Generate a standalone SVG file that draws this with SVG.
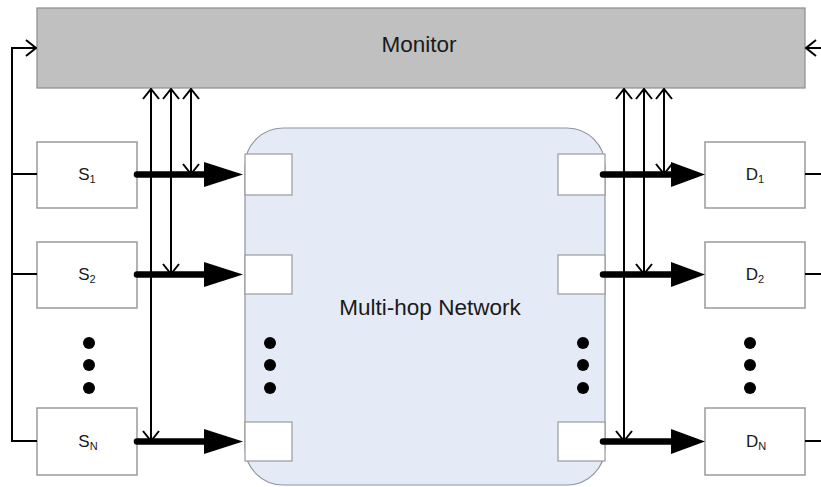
<svg xmlns="http://www.w3.org/2000/svg" width="821" height="487" viewBox="0 0 821 487">
  <defs>
    <style>
      .box { fill: #ffffff; stroke: #9a9a9a; stroke-width: 1.5; }
      .port { fill: #ffffff; stroke: #9a9a9a; stroke-width: 1.2; }
      .lbl { font-family: "Liberation Sans", Arial, sans-serif; fill: #1a1a1a; }
      .thin { fill: none; stroke: #000; stroke-width: 2; }
      .thick { fill: none; stroke: #000; stroke-width: 6.5; stroke-linecap: round; }
      .dot { fill: #000; }
    </style>
    <marker id="openHead" viewBox="0 0 12 18" refX="11" refY="9" markerWidth="12" markerHeight="18" markerUnits="userSpaceOnUse" orient="auto">
      <path d="M1,1 L11,9 L1,17" fill="none" stroke="#000" stroke-width="2"/>
    </marker>
  </defs>
  <rect width="821" height="487" fill="#ffffff"/>

  <!-- Monitor -->
  <g id="monitor">
    <rect x="37" y="8" width="768" height="80" fill="#c0c0c0" stroke="#8c8c8c" stroke-width="1.2"/>
    <text class="lbl" x="419" y="52" font-size="22.5" text-anchor="middle">Monitor</text>
  </g>

  <!-- Multi-hop network with its ingress/egress ports -->
  <g id="network">
    <rect x="245" y="128" width="360" height="357" rx="38" ry="38" fill="#e4eaf6" stroke="#8f959c" stroke-width="1.2"/>
    <text class="lbl" x="430" y="315" font-size="22.5" text-anchor="middle">Multi-hop Network</text>
    <rect class="port" x="245" y="154" width="47" height="41"/>
    <rect class="port" x="245" y="255" width="47" height="39"/>
    <rect class="port" x="245" y="422" width="47" height="39"/>
    <rect class="port" x="558" y="154" width="47" height="41"/>
    <rect class="port" x="558" y="255" width="47" height="39"/>
    <rect class="port" x="558" y="422" width="47" height="39"/>
    <circle class="dot" cx="270" cy="343" r="6"/>
    <circle class="dot" cx="270" cy="365" r="6"/>
    <circle class="dot" cx="270" cy="388" r="6"/>
    <circle class="dot" cx="583" cy="343" r="6"/>
    <circle class="dot" cx="583" cy="365" r="6"/>
    <circle class="dot" cx="583" cy="388" r="6"/>
  </g>

  <!-- Sources -->
  <g id="s1">
    <rect class="box" x="37" y="142" width="100" height="66"/>
    <text class="lbl" x="87" y="180" font-size="17" text-anchor="middle">S<tspan font-size="11" dy="3">1</tspan></text>
  </g>
  <g id="s2">
    <rect class="box" x="37" y="242" width="100" height="66"/>
    <text class="lbl" x="87" y="280" font-size="17" text-anchor="middle">S<tspan font-size="11" dy="3">2</tspan></text>
  </g>
  <g id="sdots">
    <circle class="dot" cx="89" cy="343" r="6"/>
    <circle class="dot" cx="89" cy="365" r="6"/>
    <circle class="dot" cx="89" cy="388" r="6"/>
  </g>
  <g id="sN">
    <rect class="box" x="37" y="408" width="100" height="67"/>
    <text class="lbl" x="88" y="447" font-size="17" text-anchor="middle">S<tspan font-size="11" dy="3">N</tspan></text>
  </g>

  <!-- Destinations -->
  <g id="d1">
    <rect class="box" x="705" y="142" width="100" height="66"/>
    <text class="lbl" x="755" y="180" font-size="17" text-anchor="middle">D<tspan font-size="11" dy="3">1</tspan></text>
  </g>
  <g id="d2">
    <rect class="box" x="705" y="242" width="100" height="66"/>
    <text class="lbl" x="755" y="280" font-size="17" text-anchor="middle">D<tspan font-size="11" dy="3">2</tspan></text>
  </g>
  <g id="ddots">
    <circle class="dot" cx="750" cy="343" r="6"/>
    <circle class="dot" cx="750" cy="365" r="6"/>
    <circle class="dot" cx="750" cy="388" r="6"/>
  </g>
  <g id="dN">
    <rect class="box" x="705" y="408" width="100" height="67"/>
    <text class="lbl" x="756" y="447" font-size="17" text-anchor="middle">D<tspan font-size="11" dy="3">N</tspan></text>
  </g>

  <!-- Connectors -->
  <g id="connectors">
    <!-- source feedback bus into the monitor -->
    <polyline class="thin" points="37,174 12,174"/>
    <polyline class="thin" points="37,274 12,274"/>
    <polyline class="thin" points="37,441 12,441 12,48 36,48" marker-end="url(#openHead)"/>
    <!-- destination feedback bus into the monitor -->
    <polyline class="thin" points="805,174 821,174"/>
    <polyline class="thin" points="805,274 821,274"/>
    <polyline class="thin" points="805,441 821,441"/>
    <polyline class="thin" points="821,48 806,48" marker-end="url(#openHead)"/>

    <!-- data links -->
    <line class="thick" x1="137" y1="174.5" x2="210" y2="174.5"/>
    <line class="thick" x1="137" y1="274.5" x2="210" y2="274.5"/>
    <line class="thick" x1="137" y1="441.5" x2="210" y2="441.5"/>
    <path d="M204,162 L243,174.5 L204,187 Z"/>
    <path d="M204,262 L243,274.5 L204,287 Z"/>
    <path d="M204,429 L243,441.5 L204,454 Z"/>
    <line class="thick" x1="603" y1="174.5" x2="676" y2="174.5"/>
    <line class="thick" x1="603" y1="274.5" x2="676" y2="274.5"/>
    <line class="thick" x1="603" y1="441.5" x2="676" y2="441.5"/>
    <path d="M671,162 L705,174.5 L671,187 Z"/>
    <path d="M671,262 L705,274.5 L671,287 Z"/>
    <path d="M671,429 L705,441.5 L671,454 Z"/>

    <!-- monitor taps on the ingress links -->
    <line class="thin" x1="151" y1="440" x2="151" y2="89" marker-end="url(#openHead)"/>
    <line class="thin" x1="171" y1="273" x2="171" y2="89" marker-end="url(#openHead)"/>
    <line class="thin" x1="191" y1="173" x2="191" y2="89" marker-end="url(#openHead)"/>
    <!-- monitor taps on the egress links -->
    <line class="thin" x1="624" y1="440" x2="624" y2="89" marker-end="url(#openHead)"/>
    <line class="thin" x1="644" y1="273" x2="644" y2="89" marker-end="url(#openHead)"/>
    <line class="thin" x1="664" y1="173" x2="664" y2="89" marker-end="url(#openHead)"/>

    <!-- control from the monitor down to each link -->
    <line class="thin" x1="151" y1="100" x2="151" y2="441" marker-end="url(#openHead)"/>
    <line class="thin" x1="171" y1="100" x2="171" y2="274" marker-end="url(#openHead)"/>
    <line class="thin" x1="191" y1="100" x2="191" y2="174" marker-end="url(#openHead)"/>
    <line class="thin" x1="624" y1="100" x2="624" y2="441" marker-end="url(#openHead)"/>
    <line class="thin" x1="644" y1="100" x2="644" y2="274" marker-end="url(#openHead)"/>
    <line class="thin" x1="664" y1="100" x2="664" y2="174" marker-end="url(#openHead)"/>
  </g>
</svg>
